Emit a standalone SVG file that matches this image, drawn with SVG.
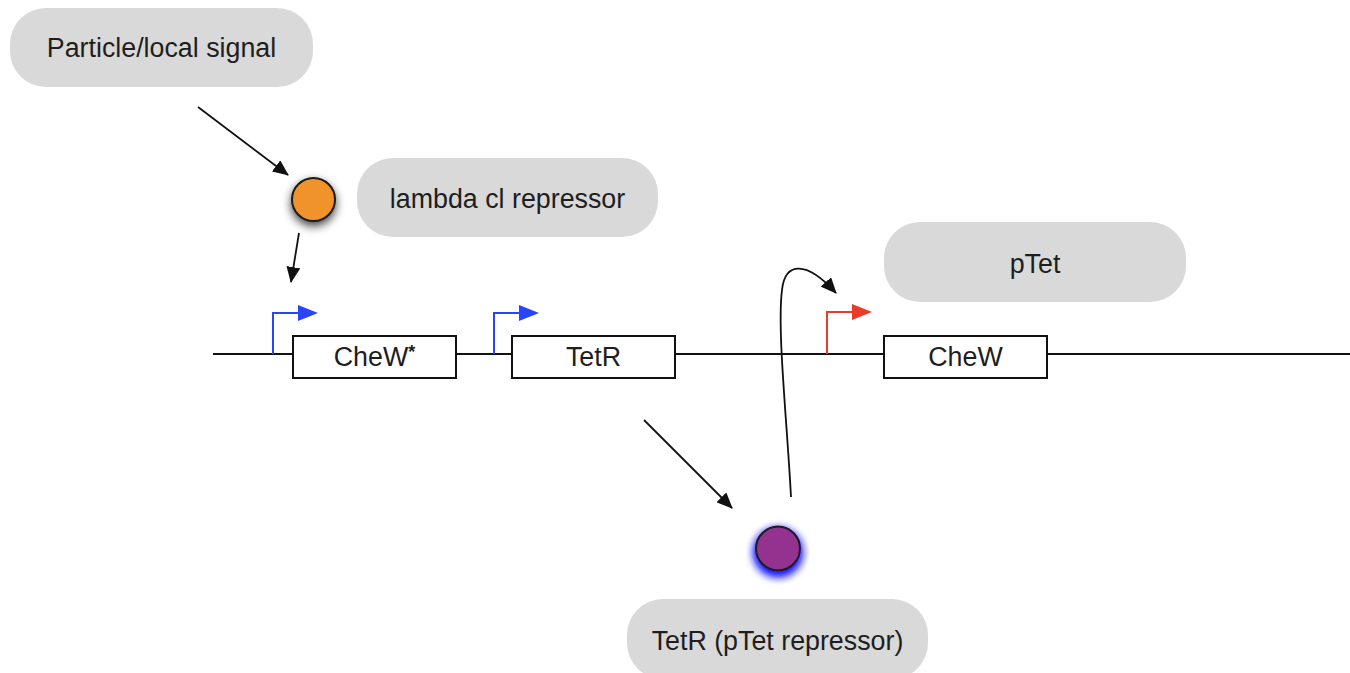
<svg xmlns="http://www.w3.org/2000/svg" width="1350" height="673" viewBox="0 0 1350 673">
<style>
.lbl{fill:#d9d9d9;stroke:none}
.txt{font-family:"Liberation Sans",Helvetica,Arial,sans-serif;font-size:26.8px;fill:#1e1e1e;text-anchor:middle}
.gene{fill:#fff;stroke:#111;stroke-width:2}
.conn{fill:none;stroke:#111;stroke-width:1.8}
.pb{fill:none;stroke:#2a45f8;stroke-width:2}
.pr{fill:none;stroke:#ea3a2a;stroke-width:2}
</style>
<defs>
<marker id="ah" markerWidth="16" markerHeight="14" refX="15" refY="7" orient="auto" markerUnits="userSpaceOnUse">
<path d="M0,0 L16,7 L0,14 Z" fill="#111"/>
</marker>
<filter id="shadow" x="-80%" y="-80%" width="260%" height="260%">
<feGaussianBlur in="SourceAlpha" stdDeviation="5"/>
<feOffset dx="0" dy="4" result="b"/>
<feFlood flood-color="#000" flood-opacity="0.75"/>
<feComposite in2="b" operator="in"/>
<feMerge><feMergeNode/><feMergeNode in="SourceGraphic"/></feMerge>
</filter>
<filter id="glow" x="-80%" y="-80%" width="260%" height="260%">
<feGaussianBlur in="SourceAlpha" stdDeviation="5"/>
<feOffset dx="0" dy="4" result="b"/>
<feFlood flood-color="#1e1eff" flood-opacity="1"/>
<feComposite in2="b" operator="in"/>
<feMerge><feMergeNode/><feMergeNode/><feMergeNode in="SourceGraphic"/></feMerge>
</filter>
</defs>
<rect width="1350" height="673" fill="#fff"/>

<g id="backbone">
<line x1="213" y1="354" x2="1350" y2="354" stroke="#111" stroke-width="2"/>
</g>

<g id="label-particle">
<rect class="lbl" x="10" y="8" width="303" height="79" rx="36"/>
<text class="txt" x="161.5" y="57">Particle/local signal</text>
</g>
<g id="label-lambda">
<rect class="lbl" x="357" y="158" width="301" height="79" rx="36"/>
<text class="txt" x="507.5" y="208">lambda cl repressor</text>
</g>
<g id="label-ptet">
<rect class="lbl" x="884" y="222" width="302" height="80" rx="36"/>
<text class="txt" x="1035" y="273">pTet</text>
</g>
<g id="label-tetr">
<rect class="lbl" x="627" y="599" width="301" height="80" rx="36"/>
<text class="txt" x="777.5" y="650">TetR (pTet repressor)</text>
</g>

<g id="promoter-1">
<path class="pb" d="M273,354 V313 H300"/>
<path d="M298,305 L318,313 L298,321 Z" fill="#2a45f8"/>
</g>
<g id="promoter-2">
<path class="pb" d="M494,354 V313 H521"/>
<path d="M519,305 L539,313 L519,321 Z" fill="#2a45f8"/>
</g>
<g id="promoter-ptet">
<path class="pr" d="M827,354 V312 H854"/>
<path d="M852,304 L872,312 L852,320 Z" fill="#ea3a2a"/>
</g>

<g id="gene-chew-star">
<rect class="gene" x="293" y="336" width="163" height="42"/>
<text class="txt" x="374.5" y="366">CheW<tspan font-size="18" font-weight="bold" dy="-8">*</tspan></text>
</g>
<g id="gene-tetr">
<rect class="gene" x="512" y="336" width="163" height="42"/>
<text class="txt" x="593.5" y="366">TetR</text>
</g>
<g id="gene-chew">
<rect class="gene" x="884" y="336" width="163" height="42"/>
<text class="txt" x="965.5" y="366">CheW</text>
</g>

<g id="connectors">
<path class="conn" d="M198,107 L288,175" marker-end="url(#ah)"/>
<path class="conn" d="M299,233 L291,282" marker-end="url(#ah)"/>
<path class="conn" d="M644,420 L732,508" marker-end="url(#ah)"/>
<path class="conn" d="M791,497 C787,420 777,330 782,290 C785,262 806,260 836,293" marker-end="url(#ah)"/>
</g>

<g id="lambda-repressor">
<circle cx="313.5" cy="199.5" r="21.5" fill="#f0932b" stroke="#1a1a1a" stroke-width="2" filter="url(#shadow)"/>
</g>
<g id="tetr-protein">
<circle cx="778" cy="548.5" r="22" fill="#93308f" stroke="#1a1a1a" stroke-width="2" filter="url(#glow)"/>
</g>
</svg>
